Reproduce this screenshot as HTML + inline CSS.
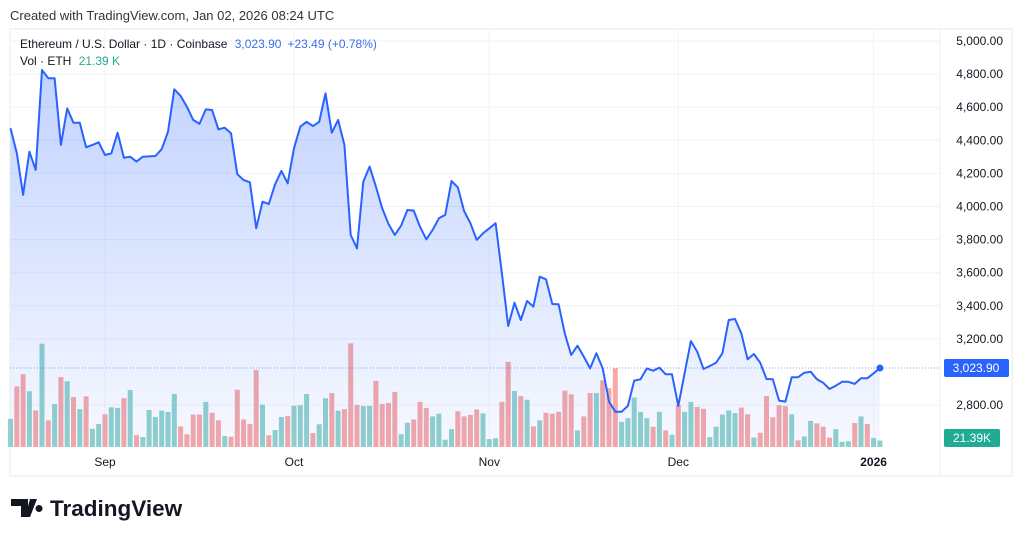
<!DOCTYPE html>
<html><head><meta charset="utf-8"><style>
html,body{margin:0;padding:0;background:#fff;width:1024px;height:539px;overflow:hidden;font-family:"Liberation Sans",sans-serif}
#c{position:absolute;left:0;top:0}
.t{font-family:"Liberation Sans",sans-serif}
</style></head><body>
<svg id="c" width="1024" height="539" viewBox="0 0 1024 539">
<defs><linearGradient id="ag" x1="0" y1="0" x2="0" y2="1"><stop offset="0" stop-color="#2962ff" stop-opacity="0.28"/><stop offset="1" stop-color="#2962ff" stop-opacity="0.04"/></linearGradient></defs>
<text class="t" x="10" y="20" font-size="13" fill="#333">Created with TradingView.com, Jan 02, 2026 08:24 UTC</text>
<rect x="10" y="29" width="1002" height="447" fill="none" stroke="#e6e8ee"/>
<line x1="940" y1="29" x2="940" y2="476" stroke="#eef0f4"/>
<g id="grid"></g><g id="vol"></g><g id="area"></g><g id="axis"></g>
<text class="t" x="20" y="48" font-size="12" fill="#131722">Ethereum / U.S. Dollar · 1D · Coinbase <tspan fill="#3a6fe8" dx="4">3,023.90</tspan><tspan fill="#3a6fe8" dx="6">+23.49 (+0.78%)</tspan></text>
<text class="t" x="20" y="65" font-size="12" fill="#131722">Vol · ETH <tspan fill="#22ab94" dx="4">21.39 K</tspan></text>
<g>
<path d="M11 499h17v18h-7v-11h-10z M30 499h7l-7 18h-5z M39 505a3.5 3.5 0 1 0 0.01 0z" fill="#131722"/>
<text class="t" x="50" y="516" font-size="22.5" font-weight="bold" fill="#131722">TradingView</text>
</g>
</svg>
<script>
const prices=[4473,4323,4070,4331,4221,4825,4775,4775,4372,4593,4506,4506,4358,4372,4388,4311,4321,4446,4295,4301,4271,4301,4303,4305,4346,4452,4708,4668,4603,4523,4499,4587,4583,4466,4476,4442,4195,4160,4146,3868,4029,4015,4134,4215,4140,4352,4482,4512,4486,4512,4684,4446,4523,4372,3828,3747,4150,4241,4120,3989,3894,3828,3884,3979,3975,3878,3802,3858,3929,3949,4154,4116,3973,3899,3798,3838,3868,3899,3596,3278,3419,3314,3429,3395,3576,3560,3411,3409,3230,3103,3159,3093,3022,3113,3022,2821,2760,2760,2795,2948,2956,3022,3008,3026,2986,2986,2795,2992,3187,3123,3018,3036,3056,3113,3314,3320,3234,3077,3109,3056,2958,2956,2827,2821,2968,2968,2996,3002,2956,2935,2897,2917,2941,2941,2928,2962,2962,2992,3023.9];
const volumes=[93,200,240,184,121,341,88,142,231,217,165,125,167,60,76,108,131,129,161,188,39,33,122,99,120,116,175,68,42,107,107,149,113,88,36,34,189,91,76,254,140,39,56,99,102,136,138,175,46,75,161,178,120,125,342,139,135,136,218,142,145,182,42,80,91,149,129,101,110,24,59,118,101,106,124,111,26,29,149,281,185,168,156,68,88,113,110,116,186,174,55,101,178,178,220,194,260,83,95,163,116,95,67,116,55,40,139,116,149,132,126,33,67,107,121,112,130,108,31,47,168,98,138,135,108,22,35,86,78,67,31,59,17,19,79,101,76,30,21.39];
const volDir="GRRGRGRGRGRGRGGRGGRGRGGGGGGRRRRGRRGRRRRRGRGGRGGGRGGRGRRRGGRRRRGGRRRGGGGRRRRGGGRRGRGRGRRRRRGRRGRRRGGGGGRGRGRGGRRGGGGGRRGRRRRRGRGGRRRGGGRGRGG";
const priceTicks=[5000,4800,4600,4400,4200,4000,3800,3600,3400,3200,2800];
const monthLabels=["Sep","Oct","Nov","Dec","2026"];
const monthDayIdx=[15,45,76,106,137];
const NS="http://www.w3.org/2000/svg";
const X=i=>10.5+i*6.3, Y=p=>41+(5000-p)*0.1655, VH=v=>v*0.303, BASE=447;
function mk(tag,attrs,parent){const e=document.createElementNS(NS,tag);for(const k in attrs)e.setAttribute(k,attrs[k]);parent.appendChild(e);return e;}
const grid=document.getElementById('grid'),vol=document.getElementById('vol'),area=document.getElementById('area'),axis=document.getElementById('axis');
priceTicks.forEach(p=>{
 const l=mk('line',{x1:10,x2:940,y1:Y(p),y2:Y(p),stroke:'#f0f2f5'},grid);
 
 
 const t=mk('text',{x:1003,y:Y(p)+4,'font-size':12,'text-anchor':'end',fill:'#131722',class:'t'},axis);
 t.textContent=p.toLocaleString('en-US',{minimumFractionDigits:2});
 
 
});
monthLabels.forEach((m,k)=>{
 const x=X(monthDayIdx[k]);
 const l=mk('line',{x1:x,x2:x,y1:29,y2:447,stroke:'#f0f2f5'},grid);
 
 
 const t=mk('text',{x:x,y:466,'font-size':12,'text-anchor':'middle',fill:'#131722',class:'t','font-weight':m==='2026'?'bold':'normal'},axis);
 t.textContent=m;
 
 
});
volumes.forEach((v,i)=>{
 const h=VH(v);
 const r=mk('rect',{x:X(i)-2.5,y:BASE-h,width:5,height:h,fill:volDir[i]==='G'?'#92d2cc':'#f7a9a7'},vol);
 
 
});
let d='';prices.forEach((p,i)=>{d+=(i?'L':'M')+X(i).toFixed(1)+' '+Y(p).toFixed(1)});
const fill=mk('path',{d:d+`L${X(prices.length-1)} ${BASE}L${X(0)} ${BASE}Z`,fill:'url(#ag)'},area);


const line=mk('path',{d:d,fill:'none',stroke:'#2962ff','stroke-width':2,'stroke-linejoin':'round'},area);


const last=prices[prices.length-1], ly=Y(last);
const pl=mk('line',{x1:10,x2:940,y1:ly,y2:ly,stroke:'#2962ff','stroke-dasharray':'1 2','stroke-opacity':0.6},area);


const dot=mk('circle',{cx:X(prices.length-1),cy:ly,r:3.5,fill:'#2962ff'},area);


const pb=mk('rect',{x:944,y:ly-9,width:65,height:18,rx:2,fill:'#2962ff'},axis);


const pt=mk('text',{x:976,y:ly+4,'font-size':12,'text-anchor':'middle',fill:'#fff',class:'t'},axis);
pt.textContent=last.toLocaleString('en-US',{minimumFractionDigits:2});


const vb=mk('rect',{x:944,y:429,width:56,height:18,rx:2,fill:'#22ab94'},axis);


const vt=mk('text',{x:972,y:442,'font-size':12,'text-anchor':'middle',fill:'#fff',class:'t'},axis);
vt.textContent=volumes[volumes.length-1].toFixed(2)+'K';


</script>
</body></html>
